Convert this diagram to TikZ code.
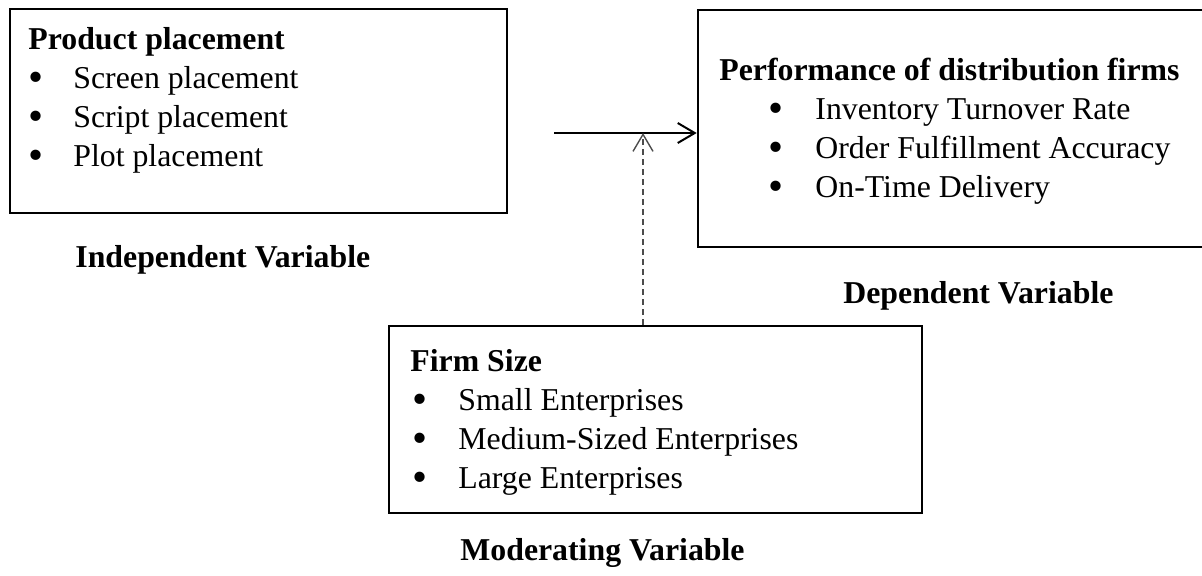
\documentclass[tikz,border=0pt]{standalone}
\usepackage{fontspec}
\setmainfont{Liberation Serif}
\usetikzlibrary{arrows.meta,fit}
\newcommand{\bulitem}[1]{\makebox[#1][l]{\raisebox{-0.1em}{\scalebox{1.35}{\textbullet}}}}
\begin{document}
\begin{tikzpicture}[x=0.5pt,y=-0.5pt,
  box/.style={draw, inner sep=0pt},
  txt/.style={anchor=base west, align=left, inner sep=0pt,
    font=\fontsize{15.9pt}{19.5pt}\selectfont},
  lbl/.style={anchor=base west, inner sep=0pt,
    font=\fontsize{15.9pt}{19.5pt}\selectfont\bfseries},
  conn/.style={line width=1pt, -{Straight Barb[length=8.5pt,width=10pt,line width=1pt]}},
  dconn/.style={line width=0.7pt, draw=black!70, dash pattern=on 3pt off 2pt,
    -{Straight Barb[length=8.5pt,width=10pt,line width=0.7pt]}}]
\useasboundingbox (0,0) rectangle (1202,575);
\clip (0,0) rectangle (1202,575);
% corner coordinates
\coordinate (i1) at (10,9);   \coordinate (i2) at (507,213);
\coordinate (d1) at (698,10); \coordinate (d2) at (1215,247);
\coordinate (m1) at (389,326);\coordinate (m2) at (922,513);
% boxes
\node[box, fit=(i1)(i2), line width=0.75pt] (ind) {};
\node[box, fit=(d1)(d2), line width=1.3pt] (dep) {};
\node[box, fit=(m1)(m2), line width=1.2pt] (mod) {};
% box texts (anchored at the baseline of the last line)
\node[txt] (indt) at (28,166) {\textbf{Product placement}\\
  \bulitem{22.5pt}Screen placement\\
  \bulitem{22.5pt}Script placement\\
  \bulitem{22.5pt}Plot placement};
\node[txt] (dept) at (719,197) {\textbf{Performance of distribution firms}\\
  \hspace{24.5pt}\bulitem{23.5pt}Inventory Turnover Rate\\
  \hspace{24.5pt}\bulitem{23.5pt}Order Fulfillment Accuracy\\
  \hspace{24.5pt}\bulitem{23.5pt}On-Time Delivery};
\node[txt] (modt) at (410,488) {\textbf{Firm Size}\\
  \hspace{1pt}\bulitem{23pt}Small Enterprises\\
  \hspace{1pt}\bulitem{23pt}Medium-Sized Enterprises\\
  \hspace{1pt}\bulitem{23pt}Large Enterprises};
% labels
\node[lbl] (indl) at (75,267) {Independent Variable};
\node[lbl] (depl) at (843,303) {Dependent Variable};
\node[lbl] (modl) at (460,560) {Moderating Variable};
% connectors
\coordinate (src) at (554,133);
\coordinate (meet) at (643,133);
\draw[conn] (src) -- (src -| dep.west);
\draw[dconn] (mod.north -| meet) -- (meet);
\end{tikzpicture}
\end{document}
